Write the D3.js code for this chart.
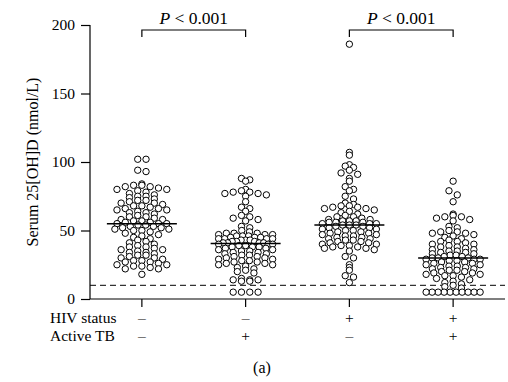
<!DOCTYPE html>
<html><head><meta charset="utf-8">
<script src="https://cdn.jsdelivr.net/npm/d3@7"></script>
<style>body{margin:0;background:#fff}svg{display:block}svg text{font-family:"Liberation Serif","Times New Roman",serif;fill:#000}</style>
</head><body><svg id="c" width="508" height="382"></svg>
<script>
const groups = ["HIV-/TB-", "HIV-/TB+", "HIV+/TB-", "HIV+/TB+"];
const hivStatus = ["–", "–", "+", "+"];
const activeTB = ["–", "+", "–", "+"];
const hivNegTbNeg = [102,102,94,93,84,83,83,82,82,81,80,80,79,78,77,76,75,75,74,73,72,72,71,70,70,69,68,68,67,66,66,65,65,64,63,63,62,61,60,60,59,58,58,57,57,56,56,55,55,55,54,54,53,53,52,52,51,51,50,50,49,48,47,46,45,44,43,42,41,40,39,38,38,37,36,36,35,34,34,33,32,32,31,30,30,29,28,28,27,27,26,25,25,24,24,23,22,22,18];
const hivNegTbPos = [88,87,86,80,79,78,78,77,77,76,75,71,67,66,64,61,60,59,58,57,53,52,50,49,48,48,48,47,47,47,46,46,46,45,45,45,44,44,44,44,43,43,43,42,42,42,41,41,41,41,40,40,40,39,39,38,38,38,37,37,36,36,35,35,34,34,33,33,32,32,31,31,30,30,29,29,28,28,27,27,26,26,25,25,24,23,22,21,20,19,15,14,14,14,13,13,5,5,5,5];
const hivPosTbNeg = [186,107,105,98,97,96,94,92,91,88,86,82,80,79,75,73,70,69,68,68,67,67,66,66,65,64,63,62,61,60,60,59,58,58,57,57,57,56,56,56,55,55,55,54,54,54,53,53,52,52,51,51,50,50,49,49,48,48,47,47,46,46,45,45,44,44,43,43,42,42,41,41,40,40,39,39,38,38,37,37,36,35,31,30,25,23,21,17,16,12];
const hivPosTbPos = [86,79,76,71,62,61,60,60,59,58,57,53,52,50,49,49,48,48,47,46,45,44,43,42,42,41,40,40,39,38,38,37,36,36,35,35,34,34,33,33,32,32,31,31,30,30,30,29,29,29,28,28,27,27,26,26,25,25,24,24,23,23,22,22,21,21,20,20,19,19,18,18,17,17,16,15,14,13,12,11,10,9,8,5,5,5,5,5,5,5,5,5,5];
const series = [hivNegTbNeg, hivNegTbPos, hivPosTbNeg, hivPosTbPos];
const yTicks = [0, 50, 100, 150, 200];
const cutoff = 10;
const comparisons = [[0, 1, "P < 0.001"], [2, 3, "P < 0.001"]];

const svg = d3.select("#c");
const x = d3.scaleBand().domain(groups).range([90, 505]);
const y = d3.scaleLinear().domain([0, 200]).range([299, 25]);
const cx = g => x(g) + x.bandwidth() / 2;

const yAxis = svg.append("g").attr("transform", "translate(90,0)")
  .call(d3.axisLeft(y).tickValues(yTicks).tickSize(9).tickPadding(6));
yAxis.select(".domain").attr("d", `M0,${y(200)}V${y(0)}`);
const xAxis = svg.append("g").attr("transform", `translate(0,${y(0)})`)
  .call(d3.axisBottom(x).tickSize(8).tickFormat(""));
xAxis.select(".domain").attr("d", "M90,0H505");
svg.selectAll(".tick line, .domain").attr("stroke", "#000").attr("stroke-width", 1.2);
svg.selectAll("g").attr("font-family", null);
svg.selectAll(".tick text").attr("font-size", 15.5);

svg.append("text").attr("transform", `translate(38,${(y(0) + y(200)) / 2}) rotate(-90)`)
  .attr("text-anchor", "middle").attr("font-size", 16)
  .text("Serum 25[OH]D (nmol/L)");

svg.append("line").attr("x1", 90).attr("x2", 505).attr("y1", y(cutoff)).attr("y2", y(cutoff))
  .attr("stroke", "#000").attr("stroke-width", 1).attr("stroke-dasharray", "6,4");

// column-scatter layout: bin by pixel row, spread each bin horizontally
const r = 3.2, binH = 5, step = 8.3, maxSpan = 54;
function columnScatter(values) {
  const pts = values.map(v => ({ v, y: y(v) })).sort((a, b) => a.y - b.y);
  const bins = d3.groups(pts, p => Math.floor(p.y / binH));
  bins.forEach(([, b]) => {
    const n = b.length;
    const s = n > 1 ? Math.min(step, maxSpan / (n - 1)) : 0;
    const slots = d3.range(n).map(i => (i - (n - 1) / 2) * s)
      .sort((a, c) => Math.abs(a) - Math.abs(c) || a - c);
    b.forEach((p, i) => { p.x = slots[i]; });
  });
  return pts;
}

series.forEach((vals, i) => {
  const g = groups[i];
  const pts = columnScatter(vals);
  svg.append("g").selectAll("circle").data(pts).join("circle")
    .attr("cx", p => cx(g) + p.x).attr("cy", p => p.y).attr("r", r)
    .attr("fill", "#fff").attr("stroke", "#000").attr("stroke-width", 1);
  const med = d3.median(vals);
  svg.append("line").attr("x1", cx(g) - 35).attr("x2", cx(g) + 35)
    .attr("y1", y(med)).attr("y2", y(med)).attr("stroke", "#000").attr("stroke-width", 1.5);
});

const rowFont = 15.5;
svg.append("text").attr("x", 50).attr("y", 322.5).attr("font-size", rowFont).text("HIV status");
svg.append("text").attr("x", 50).attr("y", 340.5).attr("font-size", rowFont).text("Active TB");
groups.forEach((g, i) => {
  svg.append("text").attr("x", cx(g)).attr("y", 322.5).attr("text-anchor", "middle")
    .attr("font-size", rowFont).text(hivStatus[i]);
  svg.append("text").attr("x", cx(g)).attr("y", 340.5).attr("text-anchor", "middle")
    .attr("font-size", rowFont).text(activeTB[i]);
});
svg.append("text").attr("x", 262).attr("y", 373).attr("text-anchor", "middle")
  .attr("font-size", 16).text("(a)");

comparisons.forEach(([a, b, label]) => {
  const x1 = cx(groups[a]), x2 = cx(groups[b]);
  svg.append("path").attr("d", `M${x1},37V30H${x2}V37`).attr("fill", "none").attr("stroke", "#000").attr("stroke-width", 1.2);
  const t = svg.append("text").attr("x", (x1 + x2) / 2).attr("y", 24).attr("text-anchor", "middle")
    .attr("font-size", 17.5);
  t.append("tspan").attr("font-style", "italic").text(label.slice(0, 1));
  t.append("tspan").text(label.slice(1));
});
</script></body></html>
